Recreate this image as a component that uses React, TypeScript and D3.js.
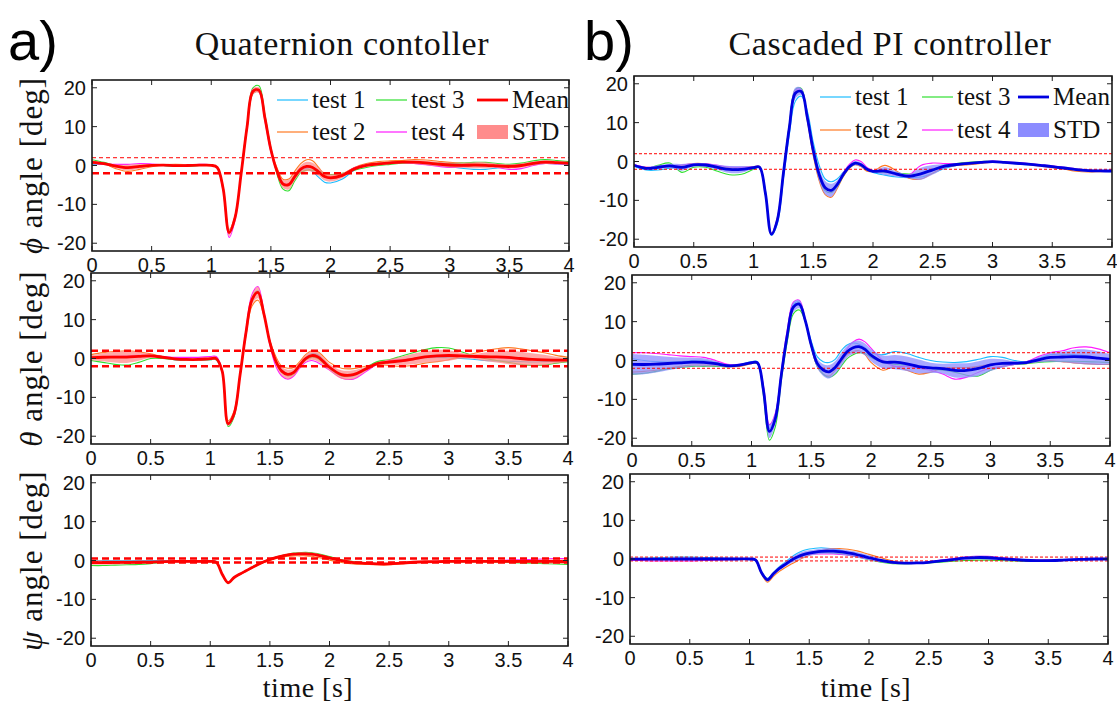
import React from 'react';
import * as d3 from 'd3';

// ---------- data ----------
const TIME = [0, 0.1, 0.2, 0.3, 0.4, 0.5, 0.6, 0.7, 0.8, 0.9, 1.0, 1.05, 1.1, 1.15, 1.2, 1.25, 1.3, 1.35, 1.4, 1.45, 1.5, 1.55, 1.6, 1.65, 1.7, 1.75, 1.8, 1.85, 1.9, 1.95, 2.0, 2.1, 2.2, 2.3, 2.4, 2.5, 2.6, 2.7, 2.8, 2.9, 3.0, 3.1, 3.2, 3.3, 3.4, 3.5, 3.6, 3.7, 3.8, 3.9, 4.0];
const X_TICKS = [0, 0.5, 1, 1.5, 2, 2.5, 3, 3.5, 4];
const X_TICK_LABELS = ['0', '0.5', '1', '1.5', '2', '2.5', '3', '3.5', '4'];
const Y_TICKS = [-20, -10, 0, 10, 20];
const Y_TICK_LABELS = ['-20', '-10', '0', '10', '20'];
const TEST_NAMES = ['test 1', 'test 2', 'test 3', 'test 4'];
const TEST_COLORS = ['#1cbcff', '#ff7a24', '#2fe02f', '#ff1cff'];
const COLUMN_TITLES = ['Quaternion contoller', 'Cascaded PI controller'];
const COLUMN_TAGS = ['a)', 'b)'];
const ANGLE_SYMBOLS = ['\u03d5', '\u03b8', '\u03c8'];

// Quaternion controller, phi
const PHI_Q_T1 = [0.3, 0.3, -0.2, -0.5, -0.2, 0.0, 0.0, -0.2, -0.1, 0.0, 0.0, -0.5, -6, -17, -13, -2.5, 9.5, 18.5, 19, 12.5, 4.5, -1.5, -4.8, -5, -3, -1.2, -0.8, -1.5, -3, -4.3, -4.5, -3.5, -1.2, 0, 0.3, 0.6, 0.8, 0.6, 0.3, 0, -0.3, -0.7, -1, -1, -0.6, -0.3, 0, 0.3, 0.5, 0.4, 0.3];
const PHI_Q_T2 = [1.0, 0.5, -0.8, -1.5, -1.0, -0.3, 0.2, 0.3, 0.2, 0, 0, -0.4, -5.5, -16.5, -13, -2.5, 9.5, 18.5, 19, 12, 4, -0.5, -3.5, -3.5, -1.5, 0.5, 1.5, 1.2, -0.5, -2.3, -2.8, -2.2, -0.5, 0.5, 1, 1.2, 1.3, 1.5, 1.4, 1.1, 0.8, 0.6, 0.5, 0.4, 0.2, 0, 0.2, 0.7, 1, 0.8, 0.6];
const PHI_Q_T3 = [1.5, 0.8, 0, -0.5, -0.3, 0, 0, -0.2, -0.2, 0, 0, -0.5, -6, -17, -13.5, -2, 10.5, 20, 20.5, 13, 4.5, -2, -6, -6.5, -4, -1.8, -1.2, -1.2, -1.5, -2, -2.3, -2, -1.2, -0.5, 0, 0.3, 0.6, 0.8, 0.8, 0.6, 0.5, 0.6, 0.8, 0.8, 0.5, 0.3, 0.6, 1.2, 1.5, 1.3, 1];
const PHI_Q_T4 = [0.5, 0.3, 0.3, 0.3, 0.5, 0.4, 0.2, 0, 0.1, 0.3, 0.2, -0.6, -6.5, -18.5, -14, -2, 10, 19.5, 19, 11.5, 3.5, -1.5, -4.5, -4.7, -3, -1.2, -0.5, -0.5, -1.5, -2.8, -3.2, -2.5, -0.6, 0.2, 0.3, 0.6, 0.8, 0.5, 0.2, -0.2, -0.5, -0.3, 0, 0, -0.5, -1, -0.8, 0, 0.5, 0.4, 0.4];

// Quaternion controller, theta
const THETA_Q_T1 = [0.3, 0.3, 0.5, 0.5, 0.6, 0.7, 0.3, -0.3, -0.5, -0.5, -0.3, -0.3, -3.5, -16.5, -14, -4, 7, 15.5, 17.5, 11.5, 4.5, -0.5, -3, -4, -3.5, -1.5, 0.2, 1.2, 1, -0.5, -2.5, -4.5, -4.5, -3, -1.5, -1, -0.8, -0.3, 0.2, 0.3, 0.2, 0, -0.2, -0.5, -0.6, -0.7, -0.8, -0.9, -0.8, -0.7, -0.6];
const THETA_Q_T2 = [1, 1.5, 1.8, 2, 1.7, 1.2, 0.5, 0, -0.3, -0.3, 0, 0, -3, -16, -13.5, -4.5, 6, 13.5, 15, 11, 4.5, 0.5, -2, -2.5, -2.3, -0.8, 1, 2, 1.8, 0.5, -1, -2.5, -2.6, -2, -1.5, -1.8, -2, -1.8, -1.2, -0.8, -0.3, 0.5, 1.2, 2, 2.5, 2.8, 2.5, 2, 1.5, 0.8, 0.3];
const THETA_Q_T3 = [-0.5, -1, -1.5, -1.7, -1, 0, 0, -0.3, -0.5, -0.5, -0.3, -0.3, -3.5, -17.5, -15, -4.5, 6.5, 15, 17, 11.5, 4, -0.8, -3.5, -4.5, -4, -2, -0.3, 0.3, 0, -1.2, -2.5, -4.5, -4.2, -2.5, -0.8, -0.3, 0.6, 1.5, 2.3, 2.8, 2.7, 1.8, 0.8, 0, -0.5, -1, -1.5, -1.8, -1.7, -1.2, -0.8];
const THETA_Q_T4 = [0, 0.5, 0.6, 0.7, 0.8, 0.8, 0.5, 0.3, 0.3, 0.3, 0.5, 0.5, -3, -17, -14.5, -4, 7.5, 16.5, 18.5, 12, 3.5, -2, -4.5, -5.3, -4.5, -2.5, -1, -0.5, -1, -2, -3, -5, -5.3, -3.5, -1.5, -0.5, -0.3, 0, 0.3, 0.5, 0.5, 0.5, 0.4, 0.3, 0.2, 0, -0.2, -0.3, -0.5, -0.5, -0.5];

// Quaternion controller, psi
const PSI_Q_T1 = [0, 0, 0, 0, 0, 0, 0, 0, 0, 0, 0, -0.3, -3.5, -5.7, -4.3, -3.4, -2.6, -1.8, -1, -0.3, 0.3, 0.8, 1.2, 1.5, 1.7, 1.8, 1.8, 1.7, 1.5, 1.2, 0.8, 0.1, -0.4, -0.6, -0.8, -0.8, -0.6, -0.4, -0.3, -0.3, -0.2, -0.2, -0.2, -0.2, -0.2, -0.2, -0.2, -0.2, -0.2, -0.2, -0.2];
const PSI_Q_T2 = [-0.5, -0.5, -0.5, -0.5, -0.5, -0.5, -0.4, -0.3, -0.3, -0.3, -0.3, -0.5, -3.5, -5.7, -4.4, -3.6, -2.8, -2, -1.2, -0.5, 0, 0.5, 0.8, 1.1, 1.2, 1.2, 1.2, 1.1, 0.8, 0.5, 0.1, -0.5, -0.9, -1, -1.1, -1.1, -0.9, -0.6, -0.4, -0.3, -0.3, -0.3, -0.3, -0.3, -0.3, -0.4, -0.4, -0.4, -0.4, -0.4, -0.4];
const PSI_Q_T3 = [-1.3, -1.3, -1.2, -1.1, -1, -0.8, -0.5, -0.3, -0.3, -0.3, -0.3, -0.5, -3.6, -5.9, -4.5, -3.5, -2.6, -1.7, -0.9, -0.2, 0.4, 0.9, 1.3, 1.6, 1.9, 2, 2.1, 2, 1.8, 1.4, 1, 0.2, -0.3, -0.6, -0.8, -0.8, -0.6, -0.4, -0.3, -0.3, -0.3, -0.3, -0.3, -0.3, -0.4, -0.5, -0.6, -0.7, -0.8, -0.9, -1];
const PSI_Q_T4 = [-0.3, -0.3, -0.3, -0.3, -0.3, -0.3, -0.3, -0.3, -0.3, -0.3, -0.3, -0.4, -3.5, -5.6, -4.3, -3.4, -2.6, -1.8, -1, -0.3, 0.3, 0.8, 1.2, 1.5, 1.7, 1.8, 1.8, 1.7, 1.5, 1.1, 0.7, 0, -0.5, -0.7, -0.8, -0.8, -0.6, -0.4, -0.3, -0.2, -0.2, -0.1, 0, 0, 0, 0.1, 0.2, 0.3, 0.4, 0.5, 0.5];

// Cascaded PI controller, phi
const PHI_C_T1 = [-1.2, -2.2, -2.2, -1.7, -1.3, -0.8, -0.9, -1.4, -1.8, -1.8, -1.6, -1.5, -7.5, -19, -16, -4.5, 7, 15.5, 16.8, 13, 5, -1, -4.5, -5.2, -4.5, -2.8, -1.3, -0.6, -1, -2, -2.8, -3.5, -4, -4.2, -4, -3, -1.8, -1, -0.6, -0.3, -0.1, -0.3, -0.6, -0.9, -1.1, -1.3, -1.6, -2, -2.3, -2.5, -2.6];
const PHI_C_T2 = [-1, -1.5, -1.5, -1.3, -1, -0.5, -0.6, -1.2, -1.6, -1.5, -1.3, -1.3, -8.5, -18.5, -14.5, -2.5, 9.5, 18, 18, 10.5, 1.5, -5, -8.5, -9.2, -7, -4, -1.8, -0.8, -1.3, -2.5, -2.5, -1, -2.5, -4.3, -4.5, -3, -1.5, -1, -0.8, -0.5, -0.2, -0.3, -0.5, -0.8, -1.2, -1.6, -2, -2.5, -2.7, -2.6, -2.5];
const PHI_C_T3 = [-1, -1.8, -1, -0.4, -2.8, -1.5, -1.5, -2.5, -3.4, -3.3, -2, -1.5, -8.5, -18.8, -15, -2.5, 9.5, 18.5, 18.8, 11, 2.5, -4, -7.5, -8, -6.5, -3.8, -1.7, -0.7, -1, -2, -2.5, -2.8, -3, -3.2, -3.2, -2.2, -1, -0.5, -0.2, 0, 0, -0.2, -0.4, -0.6, -0.9, -1.2, -1.6, -2, -2.2, -2.3, -2.3];
const PHI_C_T4 = [-0.8, -1.5, -1.3, -1.2, -0.9, -0.6, -0.6, -1, -1.4, -1.5, -1.4, -1.4, -8.5, -18.5, -14.5, -2.8, 9, 18.3, 18.5, 11, 2.5, -3.5, -6.5, -7.3, -5.8, -3, -0.8, 0.4, 0, -1.5, -2.3, -2.5, -3.5, -3.5, -1, -0.4, -0.5, -0.6, -0.4, -0.2, 0.1, -0.1, -0.3, -0.5, -0.8, -1.1, -1.5, -1.9, -2.2, -2.3, -2.4];

// Cascaded PI controller, theta
const THETA_C_T1 = [0.5, 0, -0.3, -0.4, -0.3, 0, 0, -0.5, -1.2, -1, -0.3, -0.3, -7, -17.5, -14, -3, 7, 14.5, 15, 10.5, 5, 1, -0.3, -0.5, 0.3, 2.5, 4, 4.5, 4.2, 3.3, 2, 1.5, 2.3, 1.8, 0.8, 0, -0.4, -0.5, -0.3, 0.3, 1, 0.8, 0, -0.3, 0.5, 1.5, 1.6, 1.5, 1.2, 0.8, 0.5];
const THETA_C_T2 = [-3, -2.8, -2.5, -2, -1.5, -1.2, -1.2, -1.3, -1.6, -1.5, -0.8, -0.8, -8, -18.5, -15, -4, 6.5, 13.5, 14.5, 10, 3.5, -1.5, -3.5, -4, -2.5, -0.5, 1.5, 2.3, 2.5, 1.5, -0.5, -2.5, -1.5, -2.5, -3.5, -3, -2, -1.8, -1.8, -1.5, -1, -0.8, -0.8, -0.8, -0.3, 0, -0.3, -0.6, -0.8, -1, -1];
const THETA_C_T3 = [-3.5, -3.3, -2.8, -2.2, -1.8, -1.5, -1.5, -1.5, -1.6, -1.3, -0.7, -0.8, -9, -20.5, -17, -5, 5, 12, 13, 10, 3.5, -1.5, -3.5, -4.3, -3.5, -1.5, 0.5, 1.5, 2, 1.8, 0.8, -0.5, -1, -1.2, -1.5, -2, -2.5, -3, -3.8, -4, -2.5, -1.5, -1, -0.8, -0.5, -0.3, -0.2, -0.2, -0.3, -0.4, -0.5];
const THETA_C_T4 = [2, 2, 1.8, 1.5, 1.2, 1, 0.8, 0, -1, -1, -0.5, -0.5, -6.5, -16.5, -13.5, -2.5, 8, 15, 15.5, 10.5, 3.8, -1, -2.5, -2.8, -1.5, 0.5, 3, 4.8, 5.5, 4.8, 3.2, 0, -1.5, -1.5, -2, -2.5, -3.5, -4.8, -4.3, -3, -2, -1.5, -1, -0.3, 1, 2, 2.5, 3.3, 3.5, 3, 2];

// Cascaded PI controller, psi
const PSI_C_T1 = [0.1, 0.2, 0.3, 0.4, 0.5, 0.5, 0.4, 0.3, 0.2, 0.1, 0, -0.2, -3.3, -5, -3.5, -2, -0.8, 0.5, 1.5, 2.2, 2.6, 2.8, 2.9, 2.8, 2.6, 2.3, 1.9, 1.5, 1.1, 0.7, 0.3, -0.4, -0.9, -1.1, -1, -0.8, -0.4, 0, 0.4, 0.6, 0.5, 0.2, -0.1, -0.3, -0.5, -0.5, -0.4, -0.2, -0.1, 0, 0];
const PSI_C_T2 = [0, 0, 0, 0, 0, 0, 0, 0, 0, 0, 0, -0.3, -3.8, -6, -4.5, -3.2, -2.2, -1.3, -0.5, 0.3, 1, 1.6, 2.1, 2.5, 2.7, 2.7, 2.6, 2.4, 2.1, 1.7, 1.2, 0.3, -0.5, -0.9, -1, -0.9, -0.5, -0.1, 0.3, 0.5, 0.4, 0.2, 0, -0.2, -0.3, -0.3, -0.3, -0.2, -0.1, 0, 0];
const PSI_C_T3 = [0, 0, 0, 0, 0, 0, 0, 0, 0, 0, 0, -0.2, -3.5, -5.3, -3.6, -2.3, -1.3, -0.3, 0.5, 1, 1.3, 1.5, 1.6, 1.6, 1.5, 1.4, 1.2, 0.9, 0.6, 0.2, -0.2, -0.8, -1.2, -1.2, -1.1, -1, -0.8, -0.6, -0.4, -0.3, -0.3, -0.4, -0.5, -0.6, -0.6, -0.5, -0.4, -0.2, -0.1, 0, 0];
const PSI_C_T4 = [-0.3, -0.4, -0.5, -0.5, -0.5, -0.5, -0.4, -0.3, -0.2, -0.1, 0, -0.2, -3.4, -5.2, -3.7, -2.3, -1.2, -0.2, 0.5, 1, 1.2, 1.3, 1.3, 1.3, 1.3, 1.2, 1.1, 0.9, 0.6, 0.3, 0, -0.6, -1, -1.1, -1, -0.7, -0.3, 0.1, 0.5, 0.7, 0.7, 0.4, 0.1, -0.2, -0.3, -0.3, -0.2, -0.1, 0, 0, 0];

// dashed tolerance bands (deg)
const BOUNDS_Q = [[-2, 2], [-2, 2], [-0.5, 0.5]];
const BOUNDS_C = [[-2, 2], [-2, 2], [-0.5, 0.5]];

// ---------- layout ----------
const W = 1117;
const H = 703;
const FRAMES = [
  [
    { x0: 92, x1: 569, y0: 80, y1: 251 },
    { x0: 91, x1: 568, y0: 273, y1: 444 },
    { x0: 91, x1: 568, y0: 475, y1: 646 },
  ],
  [
    { x0: 634, x1: 1112, y0: 76, y1: 247 },
    { x0: 632, x1: 1110, y0: 275, y1: 446 },
    { x0: 630, x1: 1108, y0: 474, y1: 644 },
  ],
];
const COL_STYLE = [
  { mean: '#ff0000', band: '#ff8c8c', bandOpacity: 0.75 },
  { mean: '#0000e0', band: '#8c8cff', bandOpacity: 0.75 },
];
const SERIES = [
  [
    [PHI_Q_T1, PHI_Q_T2, PHI_Q_T3, PHI_Q_T4],
    [THETA_Q_T1, THETA_Q_T2, THETA_Q_T3, THETA_Q_T4],
    [PSI_Q_T1, PSI_Q_T2, PSI_Q_T3, PSI_Q_T4],
  ],
  [
    [PHI_C_T1, PHI_C_T2, PHI_C_T3, PHI_C_T4],
    [THETA_C_T1, THETA_C_T2, THETA_C_T3, THETA_C_T4],
    [PSI_C_T1, PSI_C_T2, PSI_C_T3, PSI_C_T4],
  ],
];
const BOUNDS = [BOUNDS_Q, BOUNDS_C];

const SANS = 'Liberation Sans, Arial, sans-serif';
const SERIF = 'Liberation Serif, Times New Roman, serif';

function stats(tests: number[][]) {
  return TIME.map((t, i) => {
    const vals = tests.map((s) => s[i]);
    const m = d3.mean(vals) as number;
    const sd = d3.deviation(vals) as number;
    return { t, m, lo: m - sd, hi: m + sd };
  });
}

function Panel({ col, row }: { col: number; row: number }) {
  const f = FRAMES[col][row];
  const x = d3.scaleLinear().domain([0, 4]).range([f.x0, f.x1]);
  const y = d3.scaleLinear().domain([-22, 22]).range([f.y1, f.y0]);
  const tests = SERIES[col][row];
  const st = stats(tests);
  const curve = d3.curveCatmullRom.alpha(0.5);
  const line = d3
    .line<number>()
    .x((_, i) => x(TIME[i]))
    .y((d) => y(d))
    .curve(curve);
  const meanLine = d3
    .line<{ t: number; m: number }>()
    .x((d) => x(d.t))
    .y((d) => y(d.m))
    .curve(curve);
  const area = d3
    .area<{ t: number; lo: number; hi: number }>()
    .x((d) => x(d.t))
    .y0((d) => y(d.lo))
    .y1((d) => y(d.hi))
    .curve(curve);
  const cs = COL_STYLE[col];
  const [lo, hi] = BOUNDS[col][row];
  const clipId = `clip-${col}-${row}`;
  const tick = 5;
  const thickDash = col === 0;
  const dashFor = (which: 'lo' | 'hi') => {
    if (!thickDash) return { w: 1, dash: '3,2' };
    if (row === 0 && which === 'hi') return { w: 1, dash: '4,3' };
    return { w: 2.6, dash: '7,4' };
  };
  return (
    <g>
      <defs>
        <clipPath id={clipId}>
          <rect x={f.x0} y={f.y0} width={f.x1 - f.x0} height={f.y1 - f.y0} />
        </clipPath>
      </defs>
      <rect x={f.x0} y={f.y0} width={f.x1 - f.x0} height={f.y1 - f.y0} fill="#fff" />
      <g clipPath={`url(#${clipId})`}>
        {tests.map((s, k) => (
          <path key={k} d={line(s) || ''} fill="none" stroke={TEST_COLORS[k]} strokeWidth={1.1} />
        ))}
        <path d={area(st) || ''} fill={cs.band} fillOpacity={cs.bandOpacity} stroke="none" />
        {(['lo', 'hi'] as const).map((w) => {
          const v = w === 'lo' ? lo : hi;
          const ds = dashFor(w);
          return (
            <line
              key={w}
              x1={f.x0}
              x2={f.x1}
              y1={y(v)}
              y2={y(v)}
              stroke="#ff0000"
              strokeWidth={ds.w}
              strokeDasharray={ds.dash}
            />
          );
        })}
        <path d={meanLine(st) || ''} fill="none" stroke={cs.mean} strokeWidth={2.8} />
      </g>
      {X_TICKS.map((t) => (
        <g key={`xt${t}`}>
          <line x1={x(t)} x2={x(t)} y1={f.y1} y2={f.y1 - tick} stroke="#222" strokeWidth={1} />
          <line x1={x(t)} x2={x(t)} y1={f.y0} y2={f.y0 + tick} stroke="#222" strokeWidth={1} />
        </g>
      ))}
      {Y_TICKS.map((v) => (
        <g key={`yt${v}`}>
          <line x1={f.x0} x2={f.x0 + tick} y1={y(v)} y2={y(v)} stroke="#222" strokeWidth={1} />
          <line x1={f.x1} x2={f.x1 - tick} y1={y(v)} y2={y(v)} stroke="#222" strokeWidth={1} />
        </g>
      ))}
      <rect
        x={f.x0}
        y={f.y0}
        width={f.x1 - f.x0}
        height={f.y1 - f.y0}
        fill="none"
        stroke="#1a1a1a"
        strokeWidth={1.6}
      />
      {X_TICKS.map((t, i) => (
        <text
          key={`xl${t}`}
          x={x(t)}
          y={f.y1 + 21}
          textAnchor="middle"
          fontFamily={SANS}
          fontSize={20}
          fill="#111"
        >
          {X_TICK_LABELS[i]}
        </text>
      ))}
      {Y_TICKS.map((v, i) => (
        <text
          key={`yl${v}`}
          x={f.x0 - 6}
          y={y(v) + 7}
          textAnchor="end"
          fontFamily={SANS}
          fontSize={20}
          fill="#111"
        >
          {Y_TICK_LABELS[i]}
        </text>
      ))}
      {col === 0 && (
        <text
          transform={`translate(42, ${(f.y0 + f.y1) / 2}) rotate(-90)`}
          textAnchor="middle"
          fontFamily={SERIF}
          fontSize={31}
          letterSpacing={1}
          fill="#111"
        >
          <tspan fontStyle="italic">{ANGLE_SYMBOLS[row]}</tspan>
          <tspan> angle [deg]</tspan>
        </text>
      )}
    </g>
  );
}

function Legend({ col }: { col: number }) {
  const base = col === 0 ? [277, 376, 477] : [820, 922, 1018];
  const rows = col === 0 ? [100, 132] : [97, 130];
  const cs = COL_STYLE[col];
  const lw = 31;
  const items = [
    { c: 0, r: 0, label: TEST_NAMES[0], kind: 'line', color: TEST_COLORS[0] },
    { c: 0, r: 1, label: TEST_NAMES[1], kind: 'line', color: TEST_COLORS[1] },
    { c: 1, r: 0, label: TEST_NAMES[2], kind: 'line', color: TEST_COLORS[2] },
    { c: 1, r: 1, label: TEST_NAMES[3], kind: 'line', color: TEST_COLORS[3] },
    { c: 2, r: 0, label: 'Mean', kind: 'mean', color: cs.mean },
    { c: 2, r: 1, label: 'STD', kind: 'patch', color: cs.band },
  ];
  return (
    <g>
      {items.map((it) => {
        const x0 = base[it.c];
        const yy = rows[it.r];
        return (
          <g key={it.label}>
            {it.kind === 'patch' ? (
              <rect x={x0} y={yy - 7} width={lw} height={14} fill={it.color} />
            ) : (
              <line
                x1={x0}
                x2={x0 + lw}
                y1={yy}
                y2={yy}
                stroke={it.color}
                strokeWidth={it.kind === 'mean' ? 2.8 : 1.2}
              />
            )}
            <text x={x0 + lw + 4} y={yy + 8} fontFamily={SERIF} fontSize={25} fill="#111">
              {it.label}
            </text>
          </g>
        );
      })}
    </g>
  );
}

export default function App() {
  return (
    <svg
      width={W}
      height={H}
      viewBox={`0 0 ${W} ${H}`}
      style={{ position: 'absolute', left: 0, top: 0, background: '#fff' }}
    >
      <rect x={0} y={0} width={W} height={H} fill="#fff" />
      {[0, 1].map((col) => (
        <g key={col}>
          {[0, 1, 2].map((row) => (
            <Panel key={row} col={col} row={row} />
          ))}
          <Legend col={col} />
          <text
            x={col === 0 ? 342 : 890}
            y={55}
            textAnchor="middle"
            fontFamily={SERIF}
            fontSize={34}
            letterSpacing={0.6}
            fill="#111"
          >
            {COLUMN_TITLES[col]}
          </text>
          <text x={col === 0 ? 8 : 584} y={60} fontFamily={SANS} fontSize={56} fill="#000">
            {COLUMN_TAGS[col]}
          </text>
          <text
            x={col === 0 ? 308 : 866}
            y={697}
            textAnchor="middle"
            fontFamily={SERIF}
            fontSize={28}
            letterSpacing={0.5}
            fill="#111"
          >
            time [s]
          </text>
        </g>
      ))}
    </svg>
  );
}
